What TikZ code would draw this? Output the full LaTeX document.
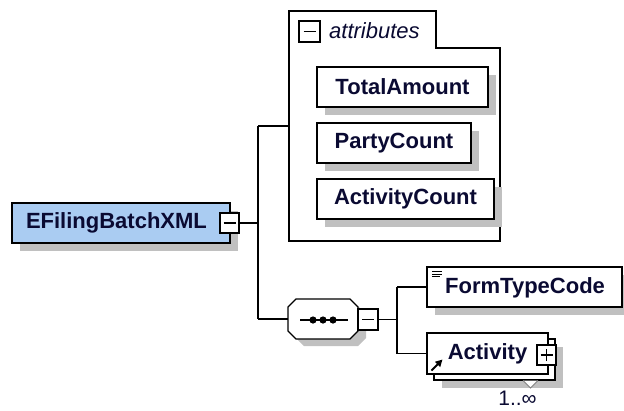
\documentclass[tikz,border=0pt]{standalone}
\usepackage{fontspec}
\setmainfont{Liberation Sans}
\usetikzlibrary{shadows,arrows.meta}
\definecolor{rootblue}{RGB}{170,204,242}
\definecolor{shadowgray}{RGB}{192,192,192}
\definecolor{txt}{RGB}{10,10,50}
\tikzset{
  box/.style={draw=black, line width=1.3pt, fill=white, minimum height=40pt, inner sep=0pt,
    font=\bfseries\fontsize{22}{26}\selectfont, text=txt},
  shad/.style={drop shadow={shadow xshift=8pt, shadow yshift=-8pt, fill=shadowgray, opacity=1}},
  pm/.style={draw=black, line width=1.2pt, fill=white, minimum width=19pt, minimum height=20pt, inner sep=0pt},
  conn/.style={line width=1.2pt},
  lbl/.style={font=\fontsize{21}{25}\selectfont, text=txt, inner sep=0pt},
}
\begin{document}
\begin{tikzpicture}[x=1pt,y=-1pt]
\useasboundingbox (0,0) rectangle (624,410);
% root
\node[box, shad, fill=rootblue, minimum width=218pt, text width=190pt, align=left] (root) at (121,223) {EFilingBatchXML};
\node[pm] (rm) at (229.5,223) {};
\draw[line width=1.2pt] ([xshift=-6pt]rm.center) -- ([xshift=6pt]rm.center);
\coordinate (j1) at (258,223);
\coordinate (ja) at (258,126);
\coordinate (js) at (258,319);
\draw[conn] (rm.east) -- (j1);
\draw[conn] (ja) -- (js);
% attributes container
\node[inner sep=0pt, minimum width=211pt, minimum height=230pt] (attr) at (394.5,126) {};
\draw[conn] (ja) -- (attr.west);
\draw[line width=1.2pt] (289,241) -- (289,11) -- (436,11) -- (436,48) -- (500,48) -- (500,241) -- cycle;
\node[pm, minimum width=21pt, minimum height=21pt] (am) at (309.5,31.5) {};
\draw[line width=1.2pt] ([xshift=-6pt]am.center) -- ([xshift=6pt]am.center);
\node[lbl, font=\itshape\fontsize{22}{26}\selectfont, anchor=west] (attrlbl) at (329,31) {attributes};
\node[box, shad, minimum width=171pt] (ta) at (402.5,87) {TotalAmount};
\node[box, shad, minimum width=154pt] (pc) at (394,143) {PartyCount};
\node[box, shad, minimum width=177pt] (ac) at (405.5,199) {ActivityCount};
% sequence
\node[inner sep=0pt, minimum width=70pt, minimum height=40pt] (seq) at (323,319) {};
\draw[conn] (js) -- (seq.west);
\draw[line width=1.2pt, fill=white, drop shadow={shadow xshift=8pt, shadow yshift=-7pt, fill=shadowgray, opacity=1}]
  (296,299) -- (350,299) -- (358,307) -- (358,331) -- (350,339) -- (296,339) -- (288,331) -- (288,307) -- cycle;
\draw[line width=1.2pt] (300,320) -- (348,320);
\foreach \xx in {313,323,333} \fill (\xx,320) circle (3.6pt);
\node[pm, minimum width=20pt, minimum height=21pt] (sm) at (368,319.5) {};
\draw[line width=1.2pt] ([xshift=-6pt]sm.center) -- ([xshift=6pt]sm.center);
\coordinate (j2) at (397,319.5);
\coordinate (j2a) at (397,287);
\coordinate (j2b) at (397,353.5);
\draw[conn] (sm.east) -- (j2);
\draw[conn] (j2a) -- (j2b);
% FormTypeCode
\node[box, shad, minimum width=195pt] (ftc) at (524.5,287) {};
\draw[conn] (j2a) -- (ftc.west);
\node[lbl, font=\bfseries\fontsize{22}{26}\selectfont, anchor=west] (ftclbl) at (445,288) {FormTypeCode};
\draw[line width=0.9pt] (432,271.5) -- (442,271.5) (432,274) -- (442,274) (432,276.5) -- (440,276.5);
% Activity
\node[box, shad, minimum width=121pt, minimum height=41pt] (actb) at (494.5,359.5) {};
\node[box, minimum width=121pt, minimum height=41pt] (act) at (487.5,353.5) {Activity\hspace{4pt}};
\draw[conn] (j2b) -- (act.west);
\node[pm] (ap) at (546.5,355) {};
\draw[line width=1.2pt] ([xshift=-6pt]ap.center) -- ([xshift=6pt]ap.center)
  ([yshift=-6pt]ap.center) -- ([yshift=6pt]ap.center);
\draw[line width=2pt, -{Triangle[length=7pt,width=7pt]}] (431.5,370.5) -- (442.5,359.5);
\draw[line width=0.9pt, draw=gray, fill=white] (523,380.5) -- (530.5,388) -- (538,380.5);
\node[lbl] (card) at (517.5,398) {1..∞};
\end{tikzpicture}
\end{document}
